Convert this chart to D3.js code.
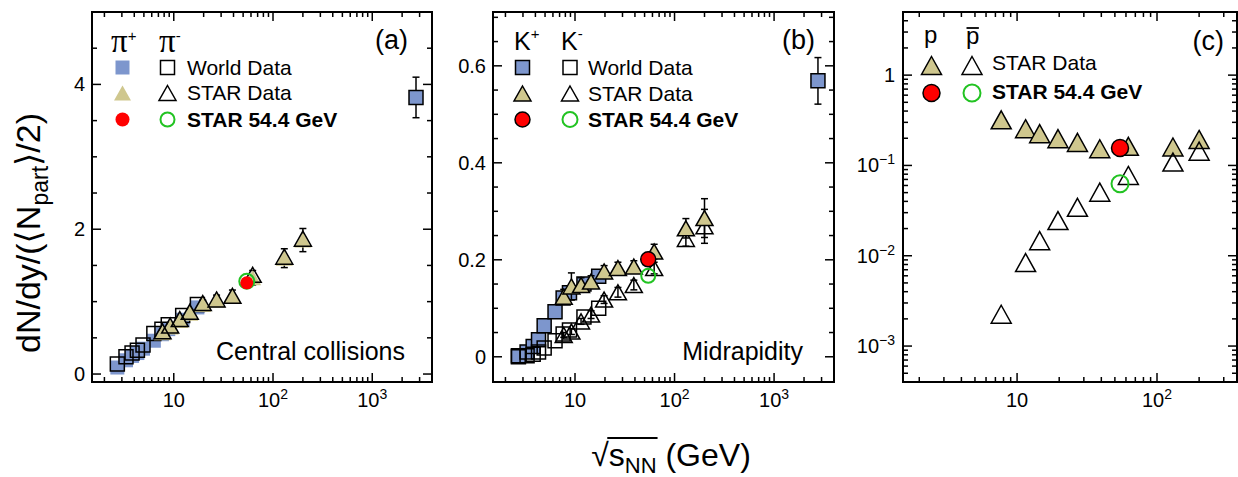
<!DOCTYPE html>
<meta charset="utf-8">
<style>
  body { margin: 0; background: #fff; }
  svg text { font-family: "Liberation Sans", Arial, Helvetica, sans-serif; fill: #000; }
  .frame { fill: none; stroke: #000; stroke-width: 2px; }
  .tick { stroke: #000; stroke-width: 1.5px; }
  .err { stroke: #000; stroke-width: 1.5px; }
</style>
<body>
<script src="https://d3js.org/d3.v7.min.js"></script>
<script>
// ---------------- data ----------------
// beam energies (GeV)
var starE = [7.7, 9.2, 11.5, 14.5, 19.6, 27, 39, 62.4, 130, 200];
var worldE = [2.7, 3.3, 3.8, 4.3, 4.9, 6.3, 7.6, 8.8, 12.3, 17.3];
var lhcE = [2760];
var newE = [54.4];
var protonE = [7.7, 11.5, 14.5, 19.6, 27, 39, 62.4, 130, 200];

// (a) pions
var piPlusWorld  = [0.09, 0.19, 0.25, 0.29, 0.35, 0.46, 0.55, 0.62, 0.75, 0.92];
var piMinusWorld = [0.14, 0.24, 0.29, 0.33, 0.40, 0.56, 0.62, 0.68, 0.81, 0.96];
var piPlusLhc = [3.82], piPlusLhcErr = [0.28];
var piPlusStar  = [0.57, 0.65, 0.74, 0.84, 0.96, 1.02, 1.07, 1.33, 1.60, 1.85];
var piMinusStar = [0.59, 0.67, 0.76, 0.86, 0.98, 1.03, 1.08, 1.37, 1.62, 1.87];
var piStarErr   = [0.03, 0.04, 0.04, 0.05, 0.06, 0.07, 0.09, 0.10, 0.13, 0.16];
var piPlusNew = [1.26], piMinusNew = [1.28];

// (b) kaons
var kPlusWorld  = [0.002, 0.010, 0.021, 0.035, 0.064, 0.093, 0.121, 0.132, 0.150, 0.166];
var kMinusWorld = [0.000, 0.002, 0.005, 0.010, 0.018, 0.033, 0.047, 0.055, 0.082, 0.100];
var kPlusLhc = [0.569], kPlusLhcErr = [0.048];
var kPlusStar  = [0.124, 0.145, 0.148, 0.155, 0.176, 0.183, 0.186, 0.217, 0.265, 0.286];
var kPlusErr   = [0.015, 0.028, 0.015, 0.012, 0.012, 0.012, 0.012, 0.015, 0.020, 0.040];
var kMinusStar = [0.045, 0.052, 0.073, 0.087, 0.118, 0.133, 0.148, 0.183, 0.243, 0.269];
var kMinusErr  = [0.005, 0.006, 0.006, 0.008, 0.008, 0.010, 0.010, 0.012, 0.015, 0.035];
var kPlusNew = [0.201], kMinusNew = [0.167];

// (c) protons
var pStar    = [0.32, 0.255, 0.225, 0.198, 0.18, 0.153, 0.163, 0.16, 0.194];
var pbarStar = [0.00225, 0.0084, 0.0147, 0.0245, 0.0344, 0.0506, 0.0774, 0.109, 0.144];
var pNew = [0.156], pbarNew = [0.0626];

// ---------------- style ----------------
var blue = "#7d96cd", khaki = "#cfc78e", red = "#ff0000", green = "#22c322";

var svg = d3.select("body").append("svg")
  .attr("width", 1238)
  .attr("height", 477);

function zip(xs, ys, es) {
  return xs.map(function (x, i) { return { x: x, y: ys[i], e: es ? es[i] : 0 }; });
}

// marker paths centred on bbox
function sqPath(s) { var h = s / 2; return "M" + -h + "," + -h + "h" + s + "v" + s + "h" + -s + "Z"; }
function triPath(w, h) { return "M0," + (-h / 2) + "L" + (w / 2) + "," + (h / 2) + "L" + (-w / 2) + "," + (h / 2) + "Z"; }

function logTicks(d) {
  var maj = [], min = [];
  var lo = Math.floor(Math.log10(d[0])), hi = Math.ceil(Math.log10(d[1]));
  for (var e = lo; e <= hi; e++) {
    for (var k = 1; k < 10; k++) {
      var v = +(k * Math.pow(10, e)).toPrecision(6);
      if (v < d[0] || v > d[1]) continue;
      (k === 1 ? maj : min).push(v);
    }
  }
  return { maj: maj, min: min };
}

// frame with inward ticks on all four sides
function drawFrame(p) {
  var g = p.g, x = p.x, y = p.y;
  var X0 = x.range()[0], X1 = x.range()[1], Y0 = y.range()[1], Y1 = y.range()[0];
  var xt = logTicks(x.domain());
  var yt = p.ylog ? logTicks(y.domain()) : p.yticks;
  function tk(list, len) {
    list.forEach(function (v) {
      var px = x(v);
      g.append("line").attr("class", "tick").attr("x1", px).attr("x2", px).attr("y1", Y1).attr("y2", Y1 - len);
      g.append("line").attr("class", "tick").attr("x1", px).attr("x2", px).attr("y1", Y0).attr("y2", Y0 + len);
    });
  }
  function tky(list, len) {
    list.forEach(function (v) {
      var py = y(v);
      g.append("line").attr("class", "tick").attr("x1", X0).attr("x2", X0 + len).attr("y1", py).attr("y2", py);
      g.append("line").attr("class", "tick").attr("x1", X1).attr("x2", X1 - len).attr("y1", py).attr("y2", py);
    });
  }
  tk(xt.maj, 9); tk(xt.min, 5);
  tky(yt.maj, 9); tky(yt.min, 5);
  g.append("rect").attr("class", "frame")
    .attr("x", X0).attr("y", Y0).attr("width", X1 - X0).attr("height", Y1 - Y0);

  // x labels
  xt.maj.forEach(function (v) {
    if (v < 10) return;
    var e = Math.round(Math.log10(v));
    var t = g.append("text").attr("x", x(v)).attr("y", 407)
      .attr("text-anchor", "middle").style("font-size", "20px");
    t.append("tspan").text("10");
    if (e > 1) t.append("tspan").attr("dy", -8).style("font-size", "14px").text(e);
  });
  // y labels
  if (p.ylog) {
    yt.maj.forEach(function (v) {
      var e = Math.round(Math.log10(v));
      if (e > 0) return;
      var t = g.append("text").attr("x", X0 - 8).attr("y", y(v) + 7)
        .attr("text-anchor", "end").style("font-size", "20px");
      if (e === 0) { t.text("1"); return; }
      t.append("tspan").text("10");
      t.append("tspan").attr("dy", -8).style("font-size", "14px").text("\u2212" + (-e));
    });
  } else {
    p.ylabels.forEach(function (v) {
      g.append("text").attr("x", X0 - 7).attr("y", y(v) + 7)
        .attr("text-anchor", "end").style("font-size", "20px").text(p.yfmt(v));
    });
  }
}

function errBars(p, data) {
  data.forEach(function (d) {
    if (!d.e) return;
    var px = p.x(d.x), t = p.y(d.y + d.e), b = p.y(d.y - d.e);
    p.g.append("line").attr("class", "err").attr("x1", px).attr("x2", px).attr("y1", t).attr("y2", b);
    p.g.append("line").attr("class", "err").attr("x1", px - 3.5).attr("x2", px + 3.5).attr("y1", t).attr("y2", t);
    p.g.append("line").attr("class", "err").attr("x1", px - 3.5).attr("x2", px + 3.5).attr("y1", b).attr("y2", b);
  });
}

function markers(p, data, path, fill, stroke, sw) {
  p.g.selectAll(null).data(data).enter().append("path")
    .attr("d", path)
    .attr("transform", function (d) { return "translate(" + p.x(d.x) + "," + p.y(d.y) + ")"; })
    .style("fill", fill)
    .style("stroke", stroke)
    .style("stroke-width", sw);
}

function circles(p, data, r, fill, stroke, sw) {
  p.g.selectAll(null).data(data).enter().append("circle")
    .attr("cx", function (d) { return p.x(d.x); })
    .attr("cy", function (d) { return p.y(d.y); })
    .attr("r", r)
    .style("fill", fill)
    .style("stroke", stroke)
    .style("stroke-width", sw);
}

function legendText(g, x, y, txt, bold) {
  g.append("text").attr("x", x).attr("y", y + 7).style("font-size", "21px")
    .style("font-weight", bold ? "bold" : "normal").text(txt);
}

function header(g, x, y, base, sup, size, serif) {
  var t = g.append("text").attr("x", x).attr("y", y).style("font-size", size + "px");
  t.append("tspan").style("font-family", serif ? "'Liberation Serif', 'Times New Roman', serif" : null).text(base);
  t.append("tspan").attr("dy", -11).style("font-size", "15px").text(sup);
}

var sq = sqPath(14), tri = triPath(17, 15), triC = triPath(20, 18);

// ---------------- panel (a) ----------------
var pa = { g: svg.append("g"), ylog: false };
pa.x = d3.scaleLog().domain([1.5, 4000]).range([92, 432]);
pa.y = d3.scaleLinear().domain([-0.11, 5]).range([382, 12]);
pa.yticks = { maj: [0, 2, 4], min: d3.range(0.5, 5, 0.5).filter(function (v) { return v % 2 !== 0; }) };
pa.ylabels = [0, 2, 4];
pa.yfmt = function (v) { return v; };
drawFrame(pa);

markers(pa, zip(worldE, piPlusWorld), sq, blue, "none", 0);
markers(pa, zip(worldE, piMinusWorld), sq, "none", "#000", 1.5);
errBars(pa, zip(starE, piPlusStar, piStarErr));
markers(pa, zip(starE, piPlusStar), tri, khaki, "none", 0);
markers(pa, zip(starE, piMinusStar), tri, "none", "#000", 1.5);
errBars(pa, zip(lhcE, piPlusLhc, piPlusLhcErr));
markers(pa, zip(lhcE, piPlusLhc), sq, blue, "#000", 1.5);
circles(pa, zip(newE, piMinusNew), 7.5, "none", green, 2);
circles(pa, zip(newE, piPlusNew), 6.5, red, "none", 0);

header(pa.g, 111, 52, "\u03c0", "+", 33, true);
header(pa.g, 159, 52, "\u03c0", "-", 33, true);
pa.g.append("path").attr("d", sq).attr("transform", "translate(122.5,67.5)").style("fill", blue);
pa.g.append("path").attr("d", sq).attr("transform", "translate(167.5,67.5)").style("fill", "none").style("stroke", "#000").style("stroke-width", 1.5);
pa.g.append("path").attr("d", tri).attr("transform", "translate(122.5,93)").style("fill", khaki);
pa.g.append("path").attr("d", tri).attr("transform", "translate(167.5,93)").style("fill", "none").style("stroke", "#000").style("stroke-width", 1.5);
pa.g.append("circle").attr("cx", 122.5).attr("cy", 119.5).attr("r", 7).style("fill", red);
pa.g.append("circle").attr("cx", 167.5).attr("cy", 119.5).attr("r", 7).style("fill", "none").style("stroke", green).style("stroke-width", 2);
legendText(pa.g, 187, 67.5, "World Data");
legendText(pa.g, 187, 93, "STAR Data");
legendText(pa.g, 187, 119.5, "STAR 54.4 GeV", true);
pa.g.append("text").attr("x", 408).attr("y", 49).attr("text-anchor", "end").style("font-size", "27px").text("(a)");
pa.g.append("text").attr("x", 405).attr("y", 360).attr("text-anchor", "end").style("font-size", "25px").text("Central collisions");

// ---------------- panel (b) ----------------
var pb = { g: svg.append("g"), ylog: false };
pb.x = d3.scaleLog().domain([1.5, 4000]).range([493, 834]);
pb.y = d3.scaleLinear().domain([-0.052, 0.711]).range([382, 12]);
pb.yticks = { maj: [0, 0.2, 0.4, 0.6], min: d3.range(1, 15).map(function (i) { return i * 0.05; }).filter(function (v, i) { return (i + 1) % 4 !== 0; }) };
pb.ylabels = [0, 0.2, 0.4, 0.6];
pb.yfmt = function (v) { return v === 0 ? "0" : v.toFixed(1); };
drawFrame(pb);

markers(pb, zip(worldE, kPlusWorld), sq, blue, "#000", 1.5);
markers(pb, zip(worldE, kMinusWorld), sq, "none", "#000", 1.5);
errBars(pb, zip(starE, kMinusStar, kMinusErr));
markers(pb, zip(starE, kMinusStar), tri, "none", "#000", 1.5);
errBars(pb, zip(starE, kPlusStar, kPlusErr));
markers(pb, zip(starE, kPlusStar), tri, khaki, "#000", 1.5);
errBars(pb, zip(lhcE, kPlusLhc, kPlusLhcErr));
markers(pb, zip(lhcE, kPlusLhc), sq, blue, "#000", 1.5);
circles(pb, zip(newE, kMinusNew), 7, "none", green, 2);
circles(pb, zip(newE, kPlusNew), 7.5, red, "#000", 1.5);

header(pb.g, 514, 50, "K", "+", 25);
header(pb.g, 561, 50, "K", "-", 25);
pb.g.append("path").attr("d", sq).attr("transform", "translate(522.5,67.5)").style("fill", blue).style("stroke", "#000").style("stroke-width", 1.5);
pb.g.append("path").attr("d", sq).attr("transform", "translate(570,67.5)").style("fill", "none").style("stroke", "#000").style("stroke-width", 1.5);
pb.g.append("path").attr("d", tri).attr("transform", "translate(522.5,93.5)").style("fill", khaki).style("stroke", "#000").style("stroke-width", 1.5);
pb.g.append("path").attr("d", tri).attr("transform", "translate(570,93.5)").style("fill", "none").style("stroke", "#000").style("stroke-width", 1.5);
pb.g.append("circle").attr("cx", 522.5).attr("cy", 119.5).attr("r", 7.5).style("fill", red).style("stroke", "#000").style("stroke-width", 1.5);
pb.g.append("circle").attr("cx", 570).attr("cy", 119.5).attr("r", 7.5).style("fill", "none").style("stroke", green).style("stroke-width", 2);
legendText(pb.g, 588, 67.5, "World Data");
legendText(pb.g, 588, 93.5, "STAR Data");
legendText(pb.g, 588, 119.5, "STAR 54.4 GeV", true);
pb.g.append("text").attr("x", 815).attr("y", 49).attr("text-anchor", "end").style("font-size", "27px").text("(b)");
pb.g.append("text").attr("x", 803).attr("y", 360).attr("text-anchor", "end").style("font-size", "25px").text("Midrapidity");

// ---------------- panel (c) ----------------
var pc = { g: svg.append("g"), ylog: true };
pc.x = d3.scaleLog().domain([1.53, 373]).range([903, 1237]);
pc.y = d3.scaleLog().domain([4e-4, 5]).range([382, 12]);
drawFrame(pc);

markers(pc, zip(protonE, pStar), triC, khaki, "#000", 1.5);
markers(pc, zip(protonE, pbarStar), triC, "none", "#000", 1.5);
circles(pc, zip(newE, pbarNew), 8.5, "none", green, 2);
circles(pc, zip(newE, pNew), 8.5, red, "#000", 1.5);

pc.g.append("text").attr("x", 924).attr("y", 43).style("font-size", "24px").text("p");
var pbar = pc.g.append("text").attr("x", 966).attr("y", 44).style("font-size", "24px").text("p");
var pbb = pbar.node().getBBox();
pc.g.append("line").attr("x1", pbb.x + 0.5).attr("x2", pbb.x + pbb.width - 0.5)
  .attr("y1", 28).attr("y2", 28).style("stroke", "#000").style("stroke-width", 1.8);
pc.g.append("path").attr("d", triC).attr("transform", "translate(931.5,65.5)").style("fill", khaki).style("stroke", "#000").style("stroke-width", 1.5);
pc.g.append("path").attr("d", triC).attr("transform", "translate(972,65.5)").style("fill", "none").style("stroke", "#000").style("stroke-width", 1.5);
pc.g.append("circle").attr("cx", 931.5).attr("cy", 93).attr("r", 8.5).style("fill", red).style("stroke", "#000").style("stroke-width", 1.5);
pc.g.append("circle").attr("cx", 972).attr("cy", 93).attr("r", 8.5).style("fill", "none").style("stroke", green).style("stroke-width", 2);
legendText(pc.g, 992, 63, "STAR Data");
legendText(pc.g, 992, 92, "STAR 54.4 GeV", true);
pc.g.append("text").attr("x", 1224).attr("y", 50).attr("text-anchor", "end").style("font-size", "27px").text("(c)");

// ---------------- axis titles ----------------
var brk = "'DejaVu Sans', sans-serif";
var yt = svg.append("text").attr("transform", "translate(40,233) rotate(-90)")
  .attr("text-anchor", "middle").style("font-size", "34px");
yt.append("tspan").text("dN/dy/(");
yt.append("tspan").style("font-family", brk).text("\u27e8");
yt.append("tspan").text("N");
yt.append("tspan").attr("dy", 8).style("font-size", "23px").text("part");
yt.append("tspan").attr("dy", -8).style("font-family", brk).text("\u27e9");
yt.append("tspan").text("/2)");

var xt = svg.append("text").attr("x", 671).attr("y", 466)
  .attr("text-anchor", "middle").style("font-size", "32px");
var tRad = xt.append("tspan").text("\u221a");
var tS = xt.append("tspan").text("s");
var tNN = xt.append("tspan").attr("dy", 7).style("font-size", "22px").text("NN");
xt.append("tspan").attr("dy", -7).text(" (GeV)");

// bar of the radical sign over s_NN
var xbb = xt.node().getBBox();
var wRad = tRad.node().getComputedTextLength();
var wBar = tS.node().getComputedTextLength() + tNN.node().getComputedTextLength();
svg.append("line")
  .attr("x1", xbb.x + wRad - 1.5).attr("x2", xbb.x + wRad + wBar + 1)
  .attr("y1", 438).attr("y2", 438)
  .style("stroke", "#000").style("stroke-width", 1.8);
</script>
</body>
